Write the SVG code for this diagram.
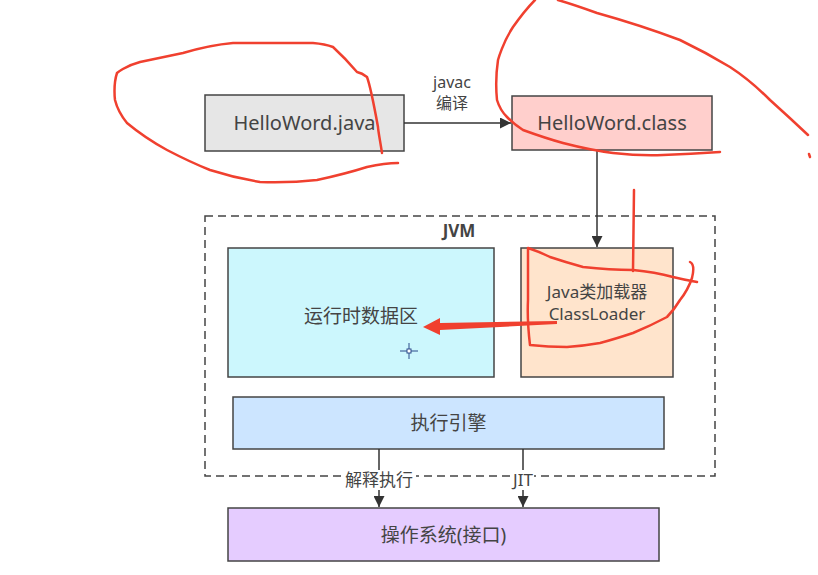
<svg xmlns="http://www.w3.org/2000/svg" width="818" height="575" viewBox="0 0 818 575">
<defs>
<style>
.box{stroke:#444;stroke-width:1.5}
.t{font-family:"Noto Sans","Noto Sans CJK SC",sans-serif;font-size:19px;fill:#444;text-anchor:middle}
.conn{stroke:#333;stroke-width:1.5;fill:none}
.red{stroke:#f0402f;stroke-width:2.5;fill:none;stroke-linecap:round;stroke-linejoin:round}
</style>
<marker id="ah" viewBox="0 0 10 10" refX="10" refY="5" markerWidth="11" markerHeight="11" markerUnits="userSpaceOnUse" orient="auto">
<path d="M0,0 L10,5 L0,10 z" fill="#333"/>
</marker>
</defs>
<rect width="818" height="575" fill="#fff"/>

<g id="jvm">
<rect x="205" y="216" width="510" height="260" fill="none" stroke="#444" stroke-width="1.5" stroke-dasharray="8,5"/>
<text x="459" y="237" class="t" style="font-weight:bold;font-size:17px">JVM</text>
</g>

<g id="java">
<rect class="box" x="205" y="95" width="199" height="56" fill="#e6e6e6"/>
<text class="t" x="304.5" y="130" style="font-size:20px">HelloWord.java</text>
</g>
<g id="class">
<rect class="box" x="512" y="96" width="200" height="54" fill="#ffcfcc"/>
<text class="t" x="612" y="130" style="font-size:20px">HelloWord.class</text>
</g>
<g id="runtime">
<rect class="box" x="228" y="248" width="266" height="129" fill="#ccf7fd"/>
<text class="t" x="361" y="323">运行时数据区</text>
</g>
<g id="classloader">
<rect class="box" x="521" y="248" width="152" height="129" fill="#ffe4cc"/>
<text class="t" x="597" y="298" style="font-size:17px">Java类加载器</text>
<text class="t" x="597" y="320" style="font-size:17px">ClassLoader</text>
</g>
<g id="engine">
<rect class="box" x="233" y="397" width="431" height="52" fill="#cce5ff"/>
<text class="t" x="448.5" y="430">执行引擎</text>
</g>
<g id="os">
<rect class="box" x="228" y="508" width="431" height="53" fill="#e5ccff"/>
<text class="t" x="443.5" y="542">操作系统(接口)</text>
</g>

<g id="connectors">
<line class="conn" x1="404" y1="123" x2="511" y2="123" marker-end="url(#ah)"/>
<text class="t" x="452" y="88" style="font-size:16px">javac</text>
<text class="t" x="452" y="109" style="font-size:16px">编译</text>
<line class="conn" x1="597" y1="150" x2="597" y2="247" marker-end="url(#ah)"/>
<line class="conn" x1="379" y1="449" x2="379" y2="507" marker-end="url(#ah)"/>
<line class="conn" x1="523" y1="449" x2="523" y2="507" marker-end="url(#ah)"/>
<rect x="342" y="470" width="74" height="20" fill="#fff"/>
<rect x="512" y="470" width="22" height="20" fill="#fff"/>
<text class="t" x="379" y="486" style="font-size:17px">解释执行</text>
<text class="t" x="523" y="486" style="font-size:17px">JIT</text>
</g>

<g id="annotations">
<path class="red" d="M382,153 C380,140 378,130 378,127 C374,105 370,85 367,77 C362,73 357,72 357,72 C345,58 333,47 333,47 C325,44 313,43 313,43 L233,43 C210,45 183,53 183,53 L140,62 C125,66 117,73 117,73 C113,85 115,100 115,100 C118,112 127,123 127,123 C145,138 167,150 167,150 C190,162 210,170 210,170 C235,178 260,182 260,182 C290,183 317,180 317,180 C345,174 367,167 367,167 C385,163 398,163 398,163"/>
<path class="red" d="M535,0 C525,10 513,27 513,27 C503,42 498,60 498,60 C495,80 497,100 497,100 C500,110 507,117 507,117 C515,125 523,130 523,130 C545,138 563,143 563,143 C590,150 613,153 613,153 C640,156 663,155 663,155 C690,154 720,152 720,152"/>
<path class="red" d="M558,0 C575,5 597,13 597,13 C640,25 680,40 680,40 C705,52 730,67 730,67 C750,80 770,100 770,100 C790,118 808,135 808,135"/>
<path class="red" d="M809,154 L810,157"/>
<path class="red" d="M634,190 L633,271"/>
<path class="red" d="M528,248 C540,252 550,257 550,257 C565,262 583,267 583,267 C610,270 633,270 633,270 C655,272 673,277 673,277 C685,280 697,282 697,282 M690,262 C694,264 694,270 692,278 C688,290 680,300 680,300 C674,310 667,317 667,317 C650,326 633,333 633,333 C615,339 600,343 600,343 C583,346 567,347 567,347 C548,347 530,345 530,345 C527,320 528,300 528,300 C528,275 528,250 528,248"/>
<path d="M557,321 L440,323 L440,318 L423,327 L440,335 L440,330 L557,324 z" fill="#f0402f"/>
</g>

<g id="cursor" stroke="#2a4a8a" stroke-width="1" fill="none">
<line x1="409" y1="343" x2="409" y2="359"/>
<line x1="400" y1="351" x2="418" y2="351"/>
<rect x="407" y="349" width="4" height="4" fill="#fff"/>
</g>
</svg>
